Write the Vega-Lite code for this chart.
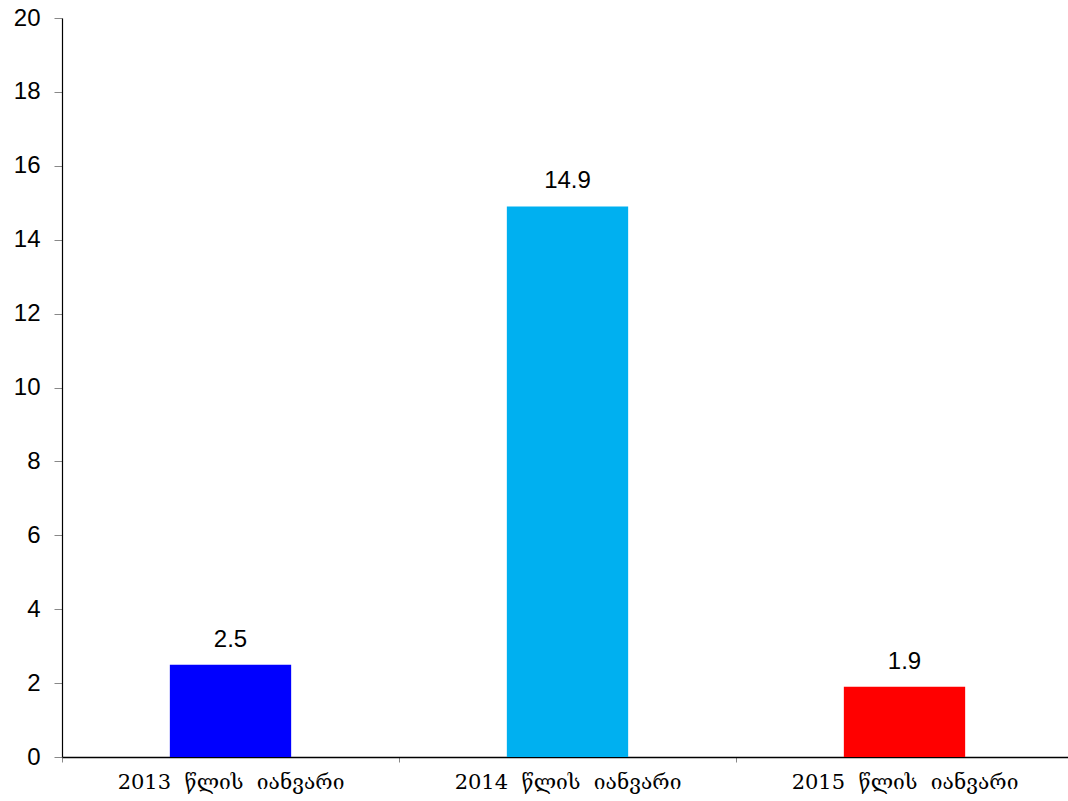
{
  "$schema": "https://vega.github.io/schema/vega-lite/v6.json",
  "autosize": "none",
  "width": 1011,
  "height": 739,
  "padding": {"left": 62, "top": 18, "right": 0, "bottom": 44},
  "background": "white",
  "config": {"view": {"stroke": null}},
  "data": {"values": [
    {"period": "2013\u00a0 წლის\u00a0 იანვარი", "value": 2.5, "color": "#0000FF"},
    {"period": "2014\u00a0 წლის\u00a0 იანვარი", "value": 14.9, "color": "#00B0F0"},
    {"period": "2015\u00a0 წლის\u00a0 იანვარი", "value": 1.9, "color": "#FF0000"}
  ]},
  "encoding": {
    "x": {"field": "period", "type": "nominal", "sort": null,
      "scale": {"paddingInner": 0, "paddingOuter": 0},
      "axis": {"title": null, "labelAngle": 0, "tickBand": "extent", "labelLimit": 0,
        "labelFont": "DejaVu Serif", "labelFontSize": 21, "labelColor": "#000",
        "labelPadding": 9, "domainColor": "#000", "domainWidth": 1.5,
        "tickColor": "#888", "tickSize": 5}},
    "y": {"field": "value", "type": "quantitative",
      "scale": {"domain": [0, 20], "nice": false},
      "axis": {"title": null, "values": [0,2,4,6,8,10,12,14,16,18,20], "grid": false,
        "labelFont": "Liberation Sans, Arial", "labelFontSize": 24, "labelColor": "#000",
        "labelPadding": 14, "domainColor": "#000", "domainWidth": 1.2,
        "tickColor": "#888", "tickSize": 8}}
  },
  "layer": [
    {"mark": {"type": "bar", "width": {"band": 0.36}},
     "encoding": {"color": {"field": "color", "type": "nominal", "scale": null}}},
    {"mark": {"type": "text", "dy": -25, "font": "Liberation Sans, Arial", "fontSize": 24, "color": "#000"},
     "encoding": {"text": {"field": "value", "type": "quantitative", "format": ".1f"}}}
  ]
}
